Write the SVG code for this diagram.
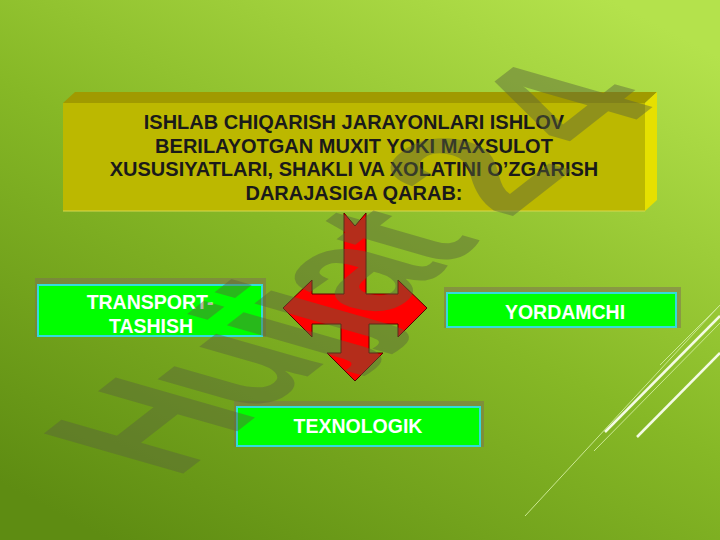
<svg xmlns="http://www.w3.org/2000/svg" width="720" height="540" viewBox="0 0 720 540">
  <defs>
    <linearGradient id="bg" x1="0.85" y1="0" x2="0.15" y2="1">
      <stop offset="0" stop-color="#b4e24c"/>
      <stop offset="0.5" stop-color="#86b826"/>
      <stop offset="1" stop-color="#5e8c12"/>
    </linearGradient>
    <style>
      .title { font-family: "Liberation Sans", Arial, sans-serif; font-weight: bold; font-size: 20px; fill: #1a1a1a; text-anchor: middle; }
      .lbl { font-family: "Liberation Sans", Arial, sans-serif; font-weight: bold; font-size: 19.5px; fill: #ffffff; text-anchor: middle; }
      .box { fill: #00ff00; stroke: #33dcdc; stroke-width: 2; }
      .shadow { fill: #7d6e55; opacity: 0.5; }
      .deco-thin { stroke: #cbe892; stroke-width: 1; fill: none; }
      .deco-thick { stroke: #f4fbe4; stroke-width: 2.5; fill: none; }
      .wm { font-family: "Liberation Sans", Arial, sans-serif; font-weight: bold; font-size: 155px; fill: #5a643c; opacity: 0.45; }
    </style>
  </defs>

  <rect x="0" y="0" width="720" height="540" fill="url(#bg)"/>

  <g id="decoration">
    <line class="deco-thin" x1="525" y1="516" x2="720" y2="305"/>
    <line class="deco-thick" x1="605" y1="432" x2="720" y2="316"/>
    <line class="deco-thin" x1="594" y1="451" x2="720" y2="323"/>
    <line class="deco-thin" x1="660" y1="365" x2="720" y2="305"/>
    <line class="deco-thick" x1="637" y1="437" x2="720" y2="353"/>
  </g>

  <g id="title-box">
    <polygon points="63,103 75,92 657,92 645,103" fill="#a09a00"/>
    <polygon points="645,103 657,92 657,200 645,211" fill="#e6e000"/>
    <rect x="63" y="103" width="582" height="108" fill="#bcb800"/>
    <line x1="63" y1="211" x2="645" y2="211" stroke="#d8d850" stroke-width="1"/>
    <text class="title" x="354" y="129">ISHLAB CHIQARISH JARAYONLARI ISHLOV</text>
    <text class="title" x="354" y="153">BERILAYOTGAN MUXIT YOKI MAXSULOT</text>
    <text class="title" x="354" y="176">XUSUSIYATLARI, SHAKLI VA XOLATINI O’ZGARISH</text>
    <text class="title" x="354" y="200">DARAJASIGA QARAB:</text>
  </g>

  <g id="node-transport">
    <rect class="shadow" x="35" y="278" width="231" height="59"/>
    <rect class="box" x="38" y="285" width="224" height="51"/>
    <text class="lbl" x="150" y="309">TRANSPORT-</text>
    <text class="lbl" x="151" y="333">TASHISH</text>
  </g>

  <g id="node-yordamchi">
    <rect class="shadow" x="444" y="287" width="237" height="41"/>
    <rect class="box" x="447" y="293" width="229" height="34"/>
    <text class="lbl" x="565" y="319">YORDAMCHI</text>
  </g>

  <g id="node-texnologik">
    <rect class="shadow" x="234" y="401" width="250" height="46"/>
    <rect class="box" x="237" y="407" width="243" height="39"/>
    <text class="lbl" x="358" y="433">TEXNOLOGIK</text>
  </g>

  <g id="connectors">
    <path d="M344,213 L355,226 L366,213 L366,294 L398,294 L398,280 L427,308 L398,337 L398,324 L369,324 L369,353 L383,353 L355,381 L327,353 L341,353 L341,324 L312,324 L312,337 L283,308 L312,280 L312,294 L344,294 Z" fill="#ff0000" stroke="#5a0000" stroke-width="1" stroke-linejoin="miter"/>
  </g>

  <g id="watermark">
    <text class="wm" transform="translate(175,480) rotate(-38) skewX(36) scale(1,1.1)"><tspan letter-spacing="-8">Hujjat</tspan><tspan dx="-2"> 2</tspan><tspan dx="25">4</tspan></text>
  </g>
</svg>
